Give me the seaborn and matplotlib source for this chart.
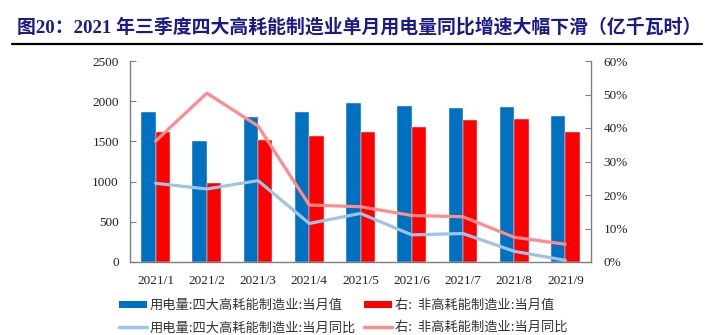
import numpy as np
import pandas as pd
import matplotlib
matplotlib.use("Agg")
import matplotlib.pyplot as plt
from matplotlib.lines import Line2D
from matplotlib.patches import Patch
from matplotlib.ticker import FuncFormatter, FixedLocator
import seaborn as sns

months = ["2021/1", "2021/2", "2021/3", "2021/4", "2021/5", "2021/6", "2021/7", "2021/8", "2021/9"]
high_val = [1869, 1505, 1800, 1869, 1974, 1940, 1919, 1928, 1812]
other_val = [1621, 986, 1513, 1571, 1621, 1675, 1766, 1775, 1621]
high_yoy = [0.235, 0.218, 0.243, 0.115, 0.145, 0.081, 0.085, 0.032, 0.005]
other_yoy = [0.361, 0.504, 0.406, 0.170, 0.165, 0.139, 0.135, 0.074, 0.053]

lab_high_val = "用电量:四大高耗能制造业:当月值"
lab_other_val = "右:  非高耗能制造业:当月值"
lab_high_yoy = "用电量:四大高耗能制造业:当月同比"
lab_other_yoy = "右:  非高耗能制造业:当月同比"
title = "图20：2021 年三季度四大高耗能制造业单月用电量同比增速大幅下滑（亿千瓦时）"

sns.set_style("white")
plt.rcParams['font.family'] = ['Liberation Serif', 'Noto Sans CJK SC', 'DejaVu Sans']

bars = pd.DataFrame({
    "month": months * 2,
    "value": high_val + other_val,
    "series": [lab_high_val] * len(months) + [lab_other_val] * len(months),
})
idx = np.arange(len(months))
lines = pd.DataFrame({
    "pos": np.concatenate([idx, idx]),
    "value": high_yoy + other_yoy,
    "series": [lab_high_yoy] * len(months) + [lab_other_yoy] * len(months),
})

c_blue, c_red = "#0070C0", "#FF0000"
c_lblue, c_pink = "#9DC3E6", "#FF8C8C"
axis_c = "#7F7F7F"

fig = plt.figure(figsize=(7.2, 3.35), dpi=100)
ax = fig.add_axes([130/720, 1-262/335, (591-130)/720, (262-61)/335])
sns.barplot(data=bars, x="month", y="value", hue="series", order=months,
            palette=[c_blue, c_red], width=0.56, saturation=1, ax=ax, legend=False)
for p in ax.patches:
    p.set_edgecolor("white")
    p.set_linewidth(0.3)
ax.set_xlim(-0.5, len(months) - 0.5)
ax.set_ylim(0, 2500)
ax.set_yticks(np.arange(0, 2501, 500))
ax.set_xlabel("")
ax.set_ylabel("")

ax2 = ax.twinx()
sns.lineplot(data=lines, x="pos", y="value", hue="series",
             palette=[c_lblue, c_pink], linewidth=2.3, ax=ax2, legend=False)
ax2.set_xlim(-0.5, len(months) - 0.5)
ax2.set_ylim(0, 0.6)
ax2.set_yticks(np.arange(0, 0.61, 0.1))
ax2.yaxis.set_major_formatter(FuncFormatter(lambda v, p: f"{v*100:.0f}%"))
ax2.set_ylabel("")
ax2.set_xlabel("")

for a in (ax, ax2):
    a.spines["top"].set_visible(False)
    for s in ("left", "right", "bottom"):
        a.spines[s].set_color(axis_c)
        a.spines[s].set_linewidth(1.0)
ax.spines["right"].set_visible(False)
ax2.spines["left"].set_visible(False)
ax2.spines["bottom"].set_visible(False)

ax.tick_params(axis="y", direction="in", length=4, color=axis_c, labelsize=9.5,
               labelcolor="#222222", pad=8)
ax2.tick_params(axis="y", direction="in", length=4, color=axis_c, labelsize=9.5,
                labelcolor="#222222", pad=9)
ax.set_xticks(idx)
ax.set_xticklabels(months)
ax.tick_params(axis="x", which="major", length=0, labelsize=9.5, labelcolor="#222222", pad=9)
ax.xaxis.set_minor_locator(FixedLocator(np.arange(0.5, len(months) - 1, 1.0)))
ax.tick_params(axis="x", which="minor", direction="in", length=4, color=axis_c)

# title
fig.text(17/720, 1-27/335, title, fontsize=13.6, fontweight="bold", color="#1A1A8C",
         ha="left", va="center",
         family=['Liberation Serif', 'Noto Sans CJK SC', 'DejaVu Sans'])
fig.add_artist(Line2D([12/720, 702/720], [1-44/335, 1-44/335], color="black", lw=1.6))

handles = [
    Patch(facecolor=c_blue, edgecolor="none"),
    Line2D([0], [0], color=c_lblue, lw=2.5),
    Patch(facecolor=c_red, edgecolor="none"),
    Line2D([0], [0], color=c_pink, lw=2.5),
]
labels = [lab_high_val, lab_high_yoy, lab_other_val, lab_other_yoy]
leg = fig.legend(handles, labels, ncol=2, loc="upper left",
                 bbox_to_anchor=(119/720, 1-299/335), frameon=False,
                 prop={"family": ['Noto Sans CJK SC', 'DejaVu Sans'], "size": 9.5},
                 handlelength=2.1, handleheight=0.45, handletextpad=0.25,
                 columnspacing=0.6, labelspacing=0.7, borderaxespad=0, borderpad=0)
for t in leg.get_texts():
    t.set_color("#333333")

fig.savefig("out.png", dpi=100)
